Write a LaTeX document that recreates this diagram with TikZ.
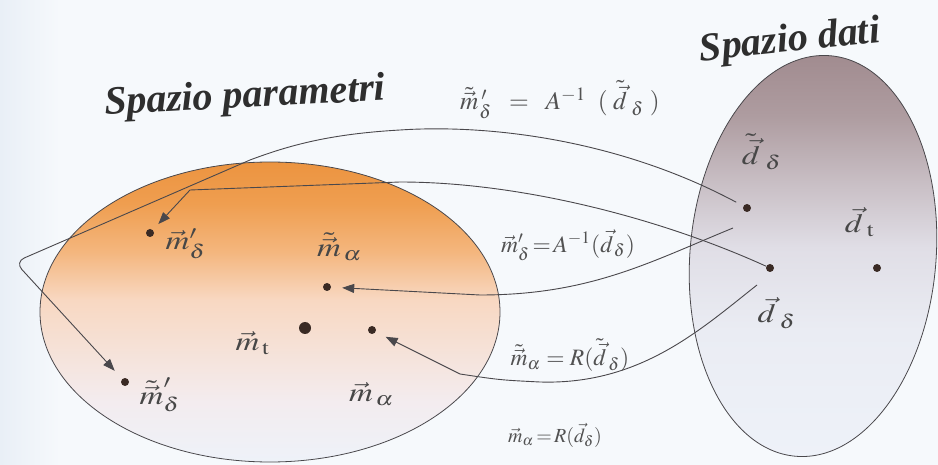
\documentclass[tikz,border=0pt]{standalone}
\usepackage{fontspec}
\usepackage{mathptmx}
\setmainfont{Liberation Serif}
\usepackage{tikz}
\usetikzlibrary{arrows.meta, positioning, calc}
\definecolor{spbg}{HTML}{F6F9FC}
\definecolor{spbgleft}{HTML}{E9EFF6}
\definecolor{sporange}{HTML}{EC9440}
\definecolor{spamber}{HTML}{EF9E50}
\definecolor{sptan}{HTML}{F4B67E}
\definecolor{sppeach}{HTML}{F8D8C2}
\definecolor{spblush}{HTML}{F3ECEF}
\definecolor{spmauve}{HTML}{A08A8E}
\definecolor{spdusk}{HTML}{AE9CA0}
\definecolor{spash}{HTML}{C8BEC4}
\definecolor{spmist}{HTML}{E0DEE6}
\definecolor{spfog}{HTML}{EAECF3}
\definecolor{sppale}{HTML}{EEF2F9}
\definecolor{spline}{HTML}{4A484C}
\definecolor{spdot}{HTML}{3A2A24}

% shadings of the two spaces
\pgfdeclareverticalshading{parshade}{100bp}{color(0bp)=(sppale); color(25bp)=(sppale); color(35bp)=(spblush);
  color(52bp)=(sppeach); color(60bp)=(sptan); color(68bp)=(spamber); color(75bp)=(sporange); color(100bp)=(sporange)}
\pgfdeclareverticalshading{datshade}{100bp}{color(0bp)=(sppale); color(25bp)=(sppale); color(41bp)=(spfog);
  color(51bp)=(spmist); color(59bp)=(spash); color(67bp)=(spdusk); color(75bp)=(spmauve); color(100bp)=(spmauve)}

\begin{document}
\begin{tikzpicture}[x=1pt, y=-1pt,
  ptdot/.style={circle, fill=spdot, inner sep=0pt, minimum size=8pt},
  bigdot/.style={ptdot, minimum size=12pt},
  ptlabel/.style={font=\fontsize{10}{12}\selectfont, text=black!72, xscale=3.3, yscale=2.65},
  eqlabel/.style={font=\fontsize{10}{12}\selectfont, text=black!68, scale=2.35},
  spacetitle/.style={font=\fontsize{40}{44}\selectfont\bfseries\itshape, text=black!82},
  mapline/.style={spline, line width=0.9pt},
  maparrow/.style={mapline, -{Triangle[length=12pt, width=9pt]}},
]
  % Frame
  \useasboundingbox (0,0) rectangle (938,465);
  \shade[left color=spbgleft, right color=spbg] (0,0) rectangle (60,465);
  \fill[spbg] (60,0) rectangle (938,465);

  % Spaces
  \shadedraw[draw=spline, line width=0.8pt, shading=parshade]
    (270,312) ellipse [x radius=230, y radius=150];
  \shadedraw[draw=spline, line width=0.8pt, shading=datshade, rotate around={-5:(813,256)}]
    (813,256) ellipse [x radius=123, y radius=201];

  \node[spacetitle, rotate=3] (tpar) at (245,98) {Spazio parametri};
  \node[spacetitle, rotate=6] (tdat) at (790,42) {Spazio dati};

  % Points in parameter space
  \node[ptdot] (mdp) at (150,233) {};
  \node[ptdot] (mta) at (327,287) {};
  \node[bigdot] (mt) at (305,328) {};
  \node[ptdot] (ma) at (372,330) {};
  \node[ptdot] (mtdp) at (125,382) {};

  \node[ptlabel] (lmdp) at (186,244) {$\vec{m}'_{\delta}$};
  \node[ptlabel] (lmta) at (340,247) {$\tilde{\vec{m}}_{\,\alpha}$};
  \node[ptlabel] (lmt) at (253,343) {$\vec{m}_{\,\mathrm{t}}$};
  \node[ptlabel] (lma) at (372,394) {$\vec{m}_{\,\alpha}$};
  \node[ptlabel] (lmtdp) at (160,395) {$\tilde{\vec{m}}'_{\delta}$};

  % Points in data space
  \node[ptdot] (dtd) at (747,208) {};
  \node[ptdot] (dd) at (770,268) {};
  \node[ptdot] (dt) at (877,268) {};

  \node[ptlabel] (ldtd) at (762,152) {$\tilde{\vec{d}}_{\;\delta}$};
  \node[ptlabel] (ldt) at (860,222) {$\vec{d}_{\;\mathrm{t}}$};
  \node[ptlabel] (ldd) at (777,313) {$\vec{d}_{\;\delta}$};

  % Maps
  \coordinate (ka) at (15,262);
  \coordinate (kb) at (190,190);
  \coordinate (kc) at (480,295);
  \coordinate (kd) at (460,374);
  \coordinate (dtdout) at (733,228);
  \coordinate (ddout) at (757,285);

  \draw[maparrow, shorten <=8pt, shorten >=11pt] (dtd) .. controls (620,140) and (490,124) .. (400,130)
    .. controls (330,134) and (290,145) .. (250,160) [rounded corners=10pt] -- (ka) -- (mtdp);
  \draw[maparrow, shorten >=8pt] (dd) .. controls (660,218) and (520,182) .. (400,182) -- (kb) -- (mdp);
  \draw[maparrow, shorten >=11pt] (dtdout) .. controls (650,262) and (590,295) .. (kc) -- (mta);
  \draw[maparrow, shorten >=11pt] (ddout) .. controls (700,330) and (640,385) .. (540,382)
    .. controls (500,380) .. (kd) -- (ma);

  % Formulas
  \node[eqlabel, scale=1.08] (eq1) at (560,100) {$\tilde{\vec{m}}\,'_{\!\delta}\;\;=\;\;A^{-1}\;\;(\;\tilde{\vec{d}}_{\;\delta}\;)$};
  \node[eqlabel] (eq2) at (568,245) {$\vec{m}'_{\delta}\!=\!A^{-1}(\vec{d}_{\,\delta})$};
  \node[eqlabel] (eq3) at (570,355) {$\tilde{\vec{m}}_{\alpha}=R(\tilde{\vec{d}}_{\,\delta})$};
  \node[eqlabel, scale=0.85] (eq4) at (555,435) {$\vec{m}_{\alpha}\!=\!R(\vec{d}_{\delta})$};
\end{tikzpicture}
\end{document}
